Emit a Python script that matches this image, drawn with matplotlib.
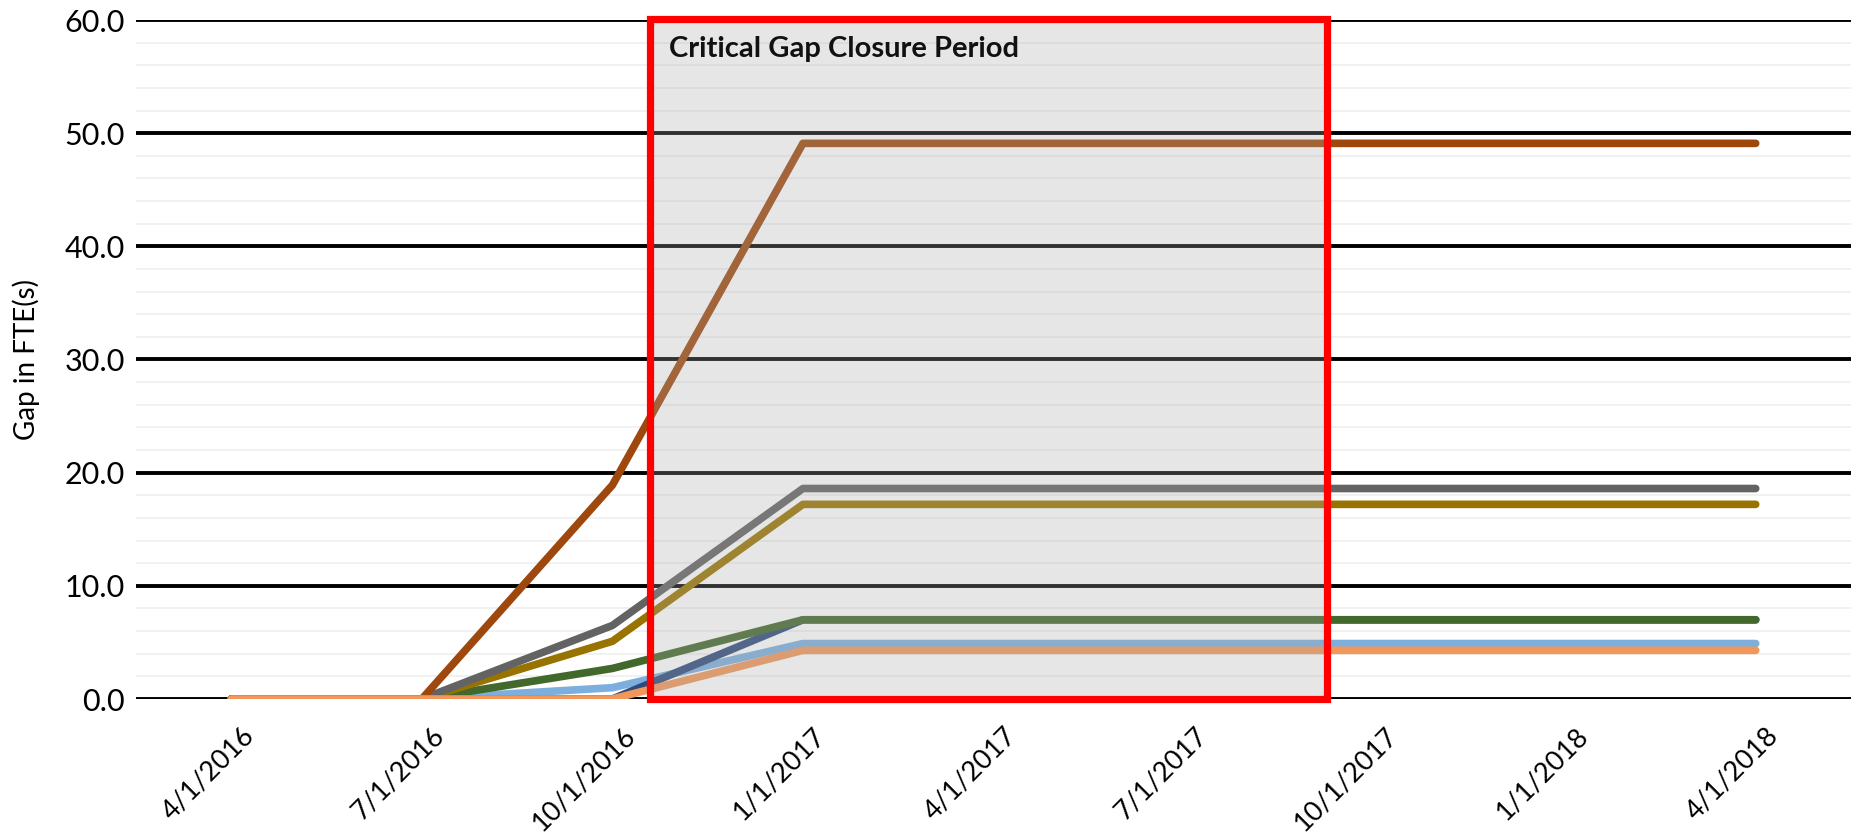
import matplotlib
matplotlib.use("Agg")
import matplotlib.pyplot as plt
from matplotlib.patches import Rectangle
from matplotlib.transforms import ScaledTranslation

plt.rcParams['font.family'] = ['Lato', 'DejaVu Sans']

# ---- data ----
dates = ['4/1/2016', '7/1/2016', '10/1/2016', '1/1/2017', '4/1/2017',
         '7/1/2017', '10/1/2017', '1/1/2018', '4/1/2018']

light_blue = [0, 0, 1.0, 4.9, 4.9, 4.9, 4.9, 4.9, 4.9]
dark_blue = [0, 0, 0, 7.0, 7.0, 7.0, 7.0, 7.0, 7.0]
green = [0, 0, 2.7, 7.0, 7.0, 7.0, 7.0, 7.0, 7.0]
gold = [0, 0, 5.1, 17.2, 17.2, 17.2, 17.2, 17.2, 17.2]
gray = [0, 0, 6.5, 18.6, 18.6, 18.6, 18.6, 18.6, 18.6]
brown = [0, 0, 18.9, 49.1, 49.1, 49.1, 49.1, 49.1, 49.1]
orange = [0, 0, 0, 4.3, 4.3, 4.3, 4.3, 4.3, 4.3]

series = [
    (light_blue, '#7CAFDD'),
    (dark_blue, '#2F4B7C'),
    (green, '#43682B'),
    (gold, '#997300'),
    (gray, '#636363'),
    (brown, '#9E480E'),
    (orange, '#F1975A'),
]

y_ticks = [0, 10, 20, 30, 40, 50, 60]
y_label = 'Gap in FTE(s)'
box_label = 'Critical Gap Closure Period'

# ---- figure ----
W, H = 1851, 838
fig = plt.figure(figsize=(W / 100, H / 100), dpi=100)
left, right, bottom, top = 136, 1851, 699, 20
ax = fig.add_axes([left / W, 1 - bottom / H, (right - left) / W, (bottom - top) / H])

x = list(range(len(dates)))
for vals, col in series:
    ax.plot(x, vals, color=col, lw=5.5, solid_capstyle='round',
            solid_joinstyle='round', zorder=3)

ax.set_xlim(-0.5, len(dates) - 0.5)
ax.set_ylim(0, 60)

# gridlines
ax.set_yticks(y_ticks)
ax.set_yticklabels([f'{v:.1f}' for v in y_ticks])
ax.set_yticks([v for v in range(0, 61, 2) if v % 10], minor=True)
ax.grid(axis='y', which='major', color='black', lw=2.8, zorder=1)
ax.grid(axis='y', which='minor', color='#EDEDED', lw=1.1, zorder=0.5)
ax.grid(axis='x', visible=False)
for s in ax.spines.values():
    s.set_visible(False)
ax.tick_params(axis='y', which='both', length=0, pad=8, labelsize=22)
ax.tick_params(axis='x', length=0, pad=17)

ax.set_xticks(x)
ax.set_xticklabels(dates, rotation=45, ha='right', va='top',
                   rotation_mode='anchor', fontsize=19.5)
off = ScaledTranslation(10 / 100, 0, fig.dpi_scale_trans)
for lab in ax.get_xticklabels():
    lab.set_transform(lab.get_transform() + off)

ax.set_ylabel(y_label, fontsize=20)
ax.yaxis.set_label_coords(-96 / (right - left), 0.5)

# shaded critical period box
x0, x1 = 2.197, 5.749
ax.add_patch(Rectangle((x0, 0), x1 - x0, 60.1, facecolor=(0.67, 0.67, 0.67),
                       alpha=0.29, edgecolor='none', zorder=4, clip_on=False))
ax.add_patch(Rectangle((x0, 0), x1 - x0, 60.1, facecolor='none',
                       edgecolor='#FF0000', lw=5.2, zorder=5, clip_on=False))
ax.text(2.296, 56.7, box_label, fontsize=21, fontweight='bold',
        va='baseline', ha='left', color='#111111', zorder=6)

fig.savefig('out.png', dpi=100)
